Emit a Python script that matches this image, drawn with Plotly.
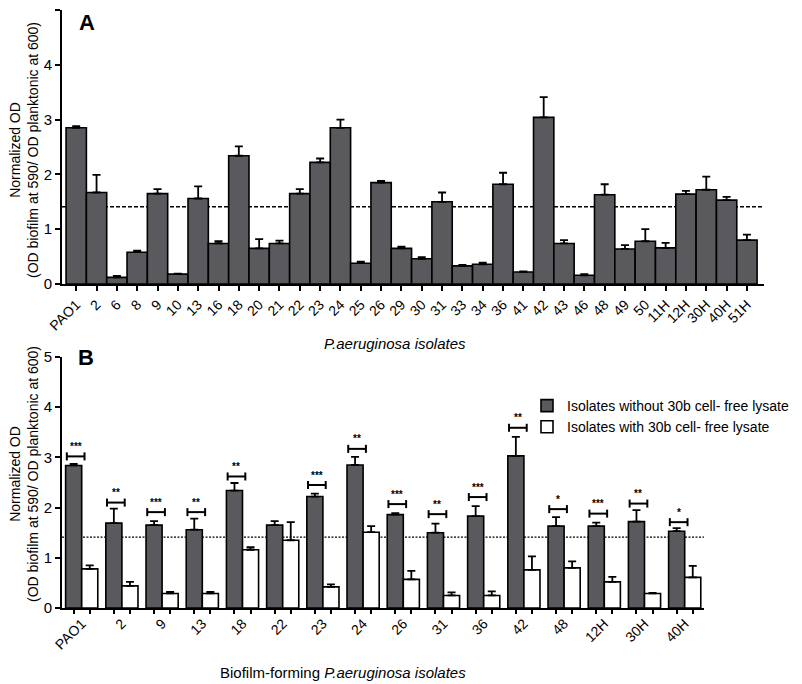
import plotly.graph_objects as go

# ---------------- Panel A data ----------------
cats_a = ["PAO1", "2", "6", "8", "9", "10", "13", "16", "18", "20", "21", "22", "23", "24",
          "25", "26", "29", "30", "31", "33", "34", "36", "41", "42", "43", "46", "48", "49",
          "50", "11H", "12H", "30H", "40H", "51H"]
vals_a = [2.85, 1.67, 0.12, 0.58, 1.65, 0.18, 1.56, 0.74, 2.34, 0.65, 0.74, 1.65, 2.22, 2.85,
          0.38, 1.85, 0.65, 0.46, 1.50, 0.33, 0.36, 1.82, 0.22, 3.04, 0.74, 0.16, 1.63, 0.64,
          0.78, 0.66, 1.64, 1.72, 1.53, 0.80]
err_a = [0.03, 0.32, 0.03, 0.03, 0.08, 0.01, 0.22, 0.04, 0.17, 0.17, 0.05, 0.08, 0.07, 0.15,
         0.03, 0.03, 0.03, 0.03, 0.17, 0.02, 0.03, 0.21, 0.01, 0.37, 0.06, 0.02, 0.19, 0.07,
         0.22, 0.09, 0.06, 0.24, 0.06, 0.10]

# ---------------- Panel B data ----------------
cats_b = ["PAO1", "2", "9", "13", "18", "22", "23", "24", "26", "31", "36", "42", "48",
          "12H", "30H", "40H"]
without_b = [2.84, 1.69, 1.65, 1.56, 2.34, 1.65, 2.22, 2.85, 1.86, 1.50, 1.83, 3.03, 1.63,
             1.63, 1.72, 1.53]
without_err = [0.03, 0.29, 0.08, 0.22, 0.15, 0.08, 0.06, 0.16, 0.03, 0.18, 0.20, 0.38, 0.18,
               0.07, 0.23, 0.06]
with_b = [0.78, 0.44, 0.29, 0.29, 1.16, 1.35, 0.42, 1.51, 0.57, 0.25, 0.25, 0.76, 0.80,
          0.52, 0.29, 0.61]
with_err = [0.07, 0.08, 0.03, 0.03, 0.05, 0.36, 0.05, 0.12, 0.17, 0.06, 0.08, 0.27, 0.13,
            0.10, 0.01, 0.23]
sig_labels = ["***", "**", "***", "**", "**", "", "***", "**", "***", "**", "***", "**", "*",
              "***", "**", "*"]
sig_y = [3.02, 2.10, 1.91, 1.91, 2.62, None, 2.45, 3.17, 2.07, 1.87, 2.21, 3.59, 1.97,
         1.88, 2.08, 1.71]

threshold = 1.41

DARK = "#5a5a5e"
FONT = "Liberation Sans, Arial, sans-serif"
OFF = 8                      # page body margin of the HTML output
W, H = 802 - OFF, 684 - OFF


def px(x):
    return (x - OFF) / W


def py(y):
    return 1 - (y - OFF) / H


fig = go.Figure()

fig.add_trace(go.Bar(
    x=cats_a, y=vals_a, width=1.0,
    marker=dict(color=DARK, line=dict(color="black", width=1.6)),
    error_y=dict(type="data", symmetric=False, array=err_a, arrayminus=[0] * len(err_a),
                 color="black", thickness=1.8, width=4),
    xaxis="x", yaxis="y", showlegend=False))

fig.add_trace(go.Bar(
    x=cats_b, y=without_b, name="Isolates without 30b cell- free lysate",
    marker=dict(color=DARK, line=dict(color="black", width=1.6)),
    error_y=dict(type="data", symmetric=False, array=without_err,
                 arrayminus=[0] * len(without_err), color="black", thickness=1.8, width=4),
    xaxis="x2", yaxis="y2"))
fig.add_trace(go.Bar(
    x=cats_b, y=with_b, name="Isolates with 30b cell- free lysate",
    marker=dict(color="white", line=dict(color="black", width=1.6)),
    error_y=dict(type="data", symmetric=False, array=with_err,
                 arrayminus=[0] * len(with_err), color="black", thickness=1.8, width=4),
    xaxis="x2", yaxis="y2"))
# invisible trace registering the axis that carries per-bar tick marks
fig.add_trace(go.Scatter(x=[0], y=[0], xaxis="x3", yaxis="y2", mode="markers",
                         marker=dict(opacity=0), showlegend=False, hoverinfo="skip"))

nB = len(cats_b)
bar_ticks = []
for i in range(nB):
    bar_ticks += [i - 0.2, i + 0.2]

axis_common = dict(showline=True, linecolor="black", linewidth=2, showgrid=False,
                   zeroline=False, ticks="outside", tickcolor="black", tickwidth=1.5,
                   ticklen=5, automargin=False,
                   tickfont=dict(family=FONT, size=14, color="black"))
yfont = dict(family=FONT, size=15, color="black")

fig.update_layout(
    template="none",
    width=W, height=H, plot_bgcolor="white", paper_bgcolor="white",
    margin=dict(l=0, r=0, t=0, b=0, pad=0),
    barmode="group", bargap=0.2, bargroupgap=0,
    font=dict(family=FONT, color="black"),
    xaxis=dict(domain=[px(62), px(764)], anchor="y", type="category",
               range=[-0.7, len(cats_a) - 0.16], tickangle=-45, **axis_common),
    yaxis=dict(domain=[py(284), py(10)], anchor="x", range=[0, 5],
               tickvals=[0, 1, 2, 3, 4, 5], **{**axis_common, "tickfont": yfont}),
    xaxis2=dict(domain=[px(62), px(704)], anchor="y2", type="category",
                range=[-0.49, nB - 0.52], tickangle=-45,
                **{**axis_common, "ticks": ""}),
    xaxis3=dict(overlaying="x2", anchor="y2", range=[-0.49, nB - 0.52],
                tickvals=bar_ticks, showticklabels=False, ticks="outside",
                ticklen=5, tickwidth=1.5, tickcolor="black", showline=False,
                showgrid=False, zeroline=False, automargin=False),
    yaxis2=dict(domain=[py(608), py(357)], anchor="x2", range=[0, 5],
                tickvals=[0, 1, 2, 3, 4, 5], **{**axis_common, "tickfont": yfont}),
    legend=dict(x=px(527), y=py(390), xanchor="left", yanchor="top",
                font=dict(family=FONT, size=14, color="black"),
                bgcolor="rgba(0,0,0,0)", traceorder="normal", itemwidth=30,
                tracegroupgap=0),
)

shapes = [
    dict(type="line", xref="x domain", yref="y", x0=0, x1=1, y0=threshold, y1=threshold,
         line=dict(color="black", width=1.5, dash="4px,2px"), layer="below"),
    dict(type="line", xref="x2 domain", yref="y2", x0=0, x1=1, y0=threshold, y1=threshold,
         line=dict(color="black", width=1.3, dash="2px,1.5px"), layer="below"),
]
annotations = []
cap = 0.08
for i, (lab, yy) in enumerate(zip(sig_labels, sig_y)):
    if not lab or yy is None:
        continue
    x0, x1 = i - 0.37, i + 0.07
    shapes.append(dict(type="line", xref="x2", yref="y2", x0=x0, x1=x1, y0=yy, y1=yy,
                       line=dict(color="black", width=2)))
    for xx in (x0, x1):
        shapes.append(dict(type="line", xref="x2", yref="y2", x0=xx, x1=xx,
                           y0=yy - cap, y1=yy + cap, line=dict(color="black", width=2)))
    annotations.append(dict(x=(x0 + x1) / 2, y=yy + 0.05, xref="x2", yref="y2",
                            text="<b>" + lab + "</b>", showarrow=False,
                            xanchor="center", yanchor="bottom",
                            font=dict(family=FONT, size=10, color="black")))

ytitle = "Normalized OD<br>(OD biofilm at 590/ OD planktonic at 600)"
annotations += [
    dict(x=px(24), y=py(150), xref="paper", yref="paper", text=ytitle, textangle=-90,
         xanchor="center", yanchor="middle", showarrow=False,
         font=dict(family=FONT, size=14, color="black")),
    dict(x=px(24), y=py(474), xref="paper", yref="paper", text=ytitle, textangle=-90,
         xanchor="center", yanchor="middle", showarrow=False,
         font=dict(family=FONT, size=14, color="black")),
    dict(x=px(87), y=py(23), xref="paper", yref="paper", text="<b>A</b>",
         xanchor="center", yanchor="middle", showarrow=False,
         font=dict(family=FONT, size=22, color="black")),
    dict(x=px(86), y=py(357), xref="paper", yref="paper", text="<b>B</b>",
         xanchor="center", yanchor="middle", showarrow=False,
         font=dict(family=FONT, size=22, color="black")),
    dict(x=px(395), y=py(343), xref="paper", yref="paper",
         text="<i>P.aeruginosa isolates</i>", showarrow=False,
         xanchor="center", yanchor="middle",
         font=dict(family=FONT, size=15, color="black")),
    dict(x=px(343), y=py(672), xref="paper", yref="paper",
         text="Biofilm-forming <i>P.aeruginosa isolates</i>", showarrow=False,
         xanchor="center", yanchor="middle",
         font=dict(family=FONT, size=15, color="black")),
]
fig.update_layout(shapes=shapes, annotations=annotations)

fig.write_html("out.html")
